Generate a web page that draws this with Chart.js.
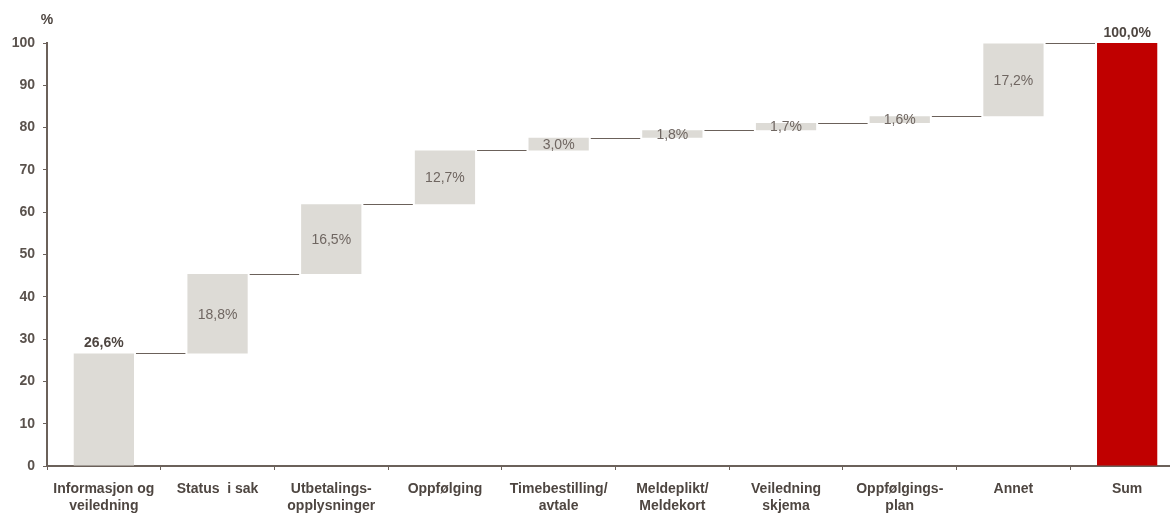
<!DOCTYPE html>
<html>
<head>
<meta charset="utf-8">
<script src="https://cdn.jsdelivr.net/npm/chart.js@4/dist/chart.umd.min.js"></script>
<style>
    html, body { margin: 0; padding: 0; background: #fff; overflow: hidden; }
    /* canvas is a little wider than the page so the category axis runs off the right edge */
    #wrap { width: 1184px; height: 515px; position: relative; }
</style>
</head>
<body>
<div id="wrap"><canvas id="waterfallChart"></canvas></div>
<script>
const categories = [
    ['Informasjon og', 'veiledning'],
    'Status  i sak',
    ['Utbetalings-', 'opplysninger'],
    'Oppfølging',
    ['Timebestilling/', 'avtale'],
    ['Meldeplikt/', 'Meldekort'],
    ['Veiledning', 'skjema'],
    ['Oppfølgings-', 'plan'],
    'Annet',
    'Sum'
];
// share per category, last entry is the total
const shares = [26.6, 18.8, 16.5, 12.7, 3.0, 1.8, 1.7, 1.6, 17.2, 100.0];
const yTicks = [0, 10, 20, 30, 40, 50, 60, 70, 80, 90, 100];

const axisColor = '#6b615a';
const textColor = '#4e4641';
const stepColor = '#dddbd6';
const sumColor = '#c00000';

// floating ranges: first and last start from zero, the rest stack on the running total
const ranges = [];
let running = 0;
shares.forEach((v, i) => {
    if (i === 0 || i === shares.length - 1) {
        ranges.push([0, v]);
        running = v;
    } else {
        ranges.push([running, running + v]);
        running += v;
    }
});

function pct(v) {
    return v.toFixed(1).replace('.', ',') + '%';
}

const waterfallExtras = {
    id: 'waterfallExtras',
    afterDatasetsDraw(chart) {
        const ctx = chart.ctx;
        const meta = chart.getDatasetMeta(0);
        const y = chart.scales.y;
        const last = shares.length - 1;

        ctx.save();
        // connectors between neighbouring bars
        ctx.strokeStyle = axisColor;
        ctx.lineWidth = 1;
        for (let i = 0; i < last; i++) {
            const a = meta.data[i];
            const b = meta.data[i + 1];
            const py = Math.round(y.getPixelForValue(ranges[i][1])) + 0.5;
            ctx.beginPath();
            ctx.moveTo(a.x + a.width / 2 + 2, py);
            ctx.lineTo(b.x - b.width / 2 - 2, py);
            ctx.stroke();
        }

        // value labels
        ctx.textAlign = 'center';
        meta.data.forEach((bar, i) => {
            const [lo, hi] = ranges[i];
            if (i === 0 || i === last) {
                ctx.font = 'bold 14px "Liberation Sans", Arial, sans-serif';
                ctx.fillStyle = textColor;
                ctx.textBaseline = 'bottom';
                ctx.fillText(pct(shares[i]), bar.x, y.getPixelForValue(hi) - 3);
            } else {
                ctx.font = '14px "Liberation Sans", Arial, sans-serif';
                ctx.fillStyle = '#6f6661';
                ctx.textBaseline = 'middle';
                ctx.fillText(pct(shares[i]), bar.x, y.getPixelForValue((lo + hi) / 2) + 1);
            }
        });

        // unit above the value axis
        ctx.font = 'bold 14px "Liberation Sans", Arial, sans-serif';
        ctx.fillStyle = textColor;
        ctx.textBaseline = 'middle';
        ctx.fillText('%', chart.chartArea.left, 20);
        ctx.restore();
    }
};

Chart.defaults.font.family = '"Liberation Sans", Arial, sans-serif';

const ctx = document.getElementById('waterfallChart').getContext('2d');
new Chart(ctx, {
    type: 'bar',
    data: {
        labels: categories,
        datasets: [{
            data: ranges,
            backgroundColor: shares.map((v, i) => i === shares.length - 1 ? sumColor : stepColor),
            borderWidth: 0,
            barPercentage: 0.53,
            categoryPercentage: 1.0
        }]
    },
    options: {
        responsive: true,
        maintainAspectRatio: false,
        animation: false,
        layout: { padding: { top: 43, left: 0, right: 0, bottom: 0 } },
        plugins: {
            legend: { display: false },
            tooltip: { enabled: false }
        },
        scales: {
            x: {
                grid: {
                    display: true,
                    offset: true,
                    drawOnChartArea: false,
                    drawTicks: true,
                    tickLength: 4,
                    color: axisColor,
                    lineWidth: 1
                },
                border: { display: true, color: axisColor, width: 2 },
                ticks: {
                    color: textColor,
                    font: { size: 14, weight: 'bold', lineHeight: 1.2 },
                    padding: 11,
                    maxRotation: 0,
                    autoSkip: false
                },
                afterFit(scale) { scale.height = 49; }
            },
            y: {
                min: 0,
                max: 100,
                afterBuildTicks(scale) {
                    scale.ticks = yTicks.map(v => ({ value: v }));
                },
                grid: {
                    display: true,
                    drawOnChartArea: false,
                    drawTicks: true,
                    tickLength: 4,
                    color: axisColor,
                    lineWidth: 1
                },
                border: { display: true, color: axisColor, width: 2 },
                ticks: {
                    color: '#5a524d',
                    font: { size: 14, weight: 'bold' },
                    padding: 8
                },
                afterFit(scale) { scale.width = 47; }
            }
        }
    },
    plugins: [waterfallExtras]
});
</script>
</body>
</html>
